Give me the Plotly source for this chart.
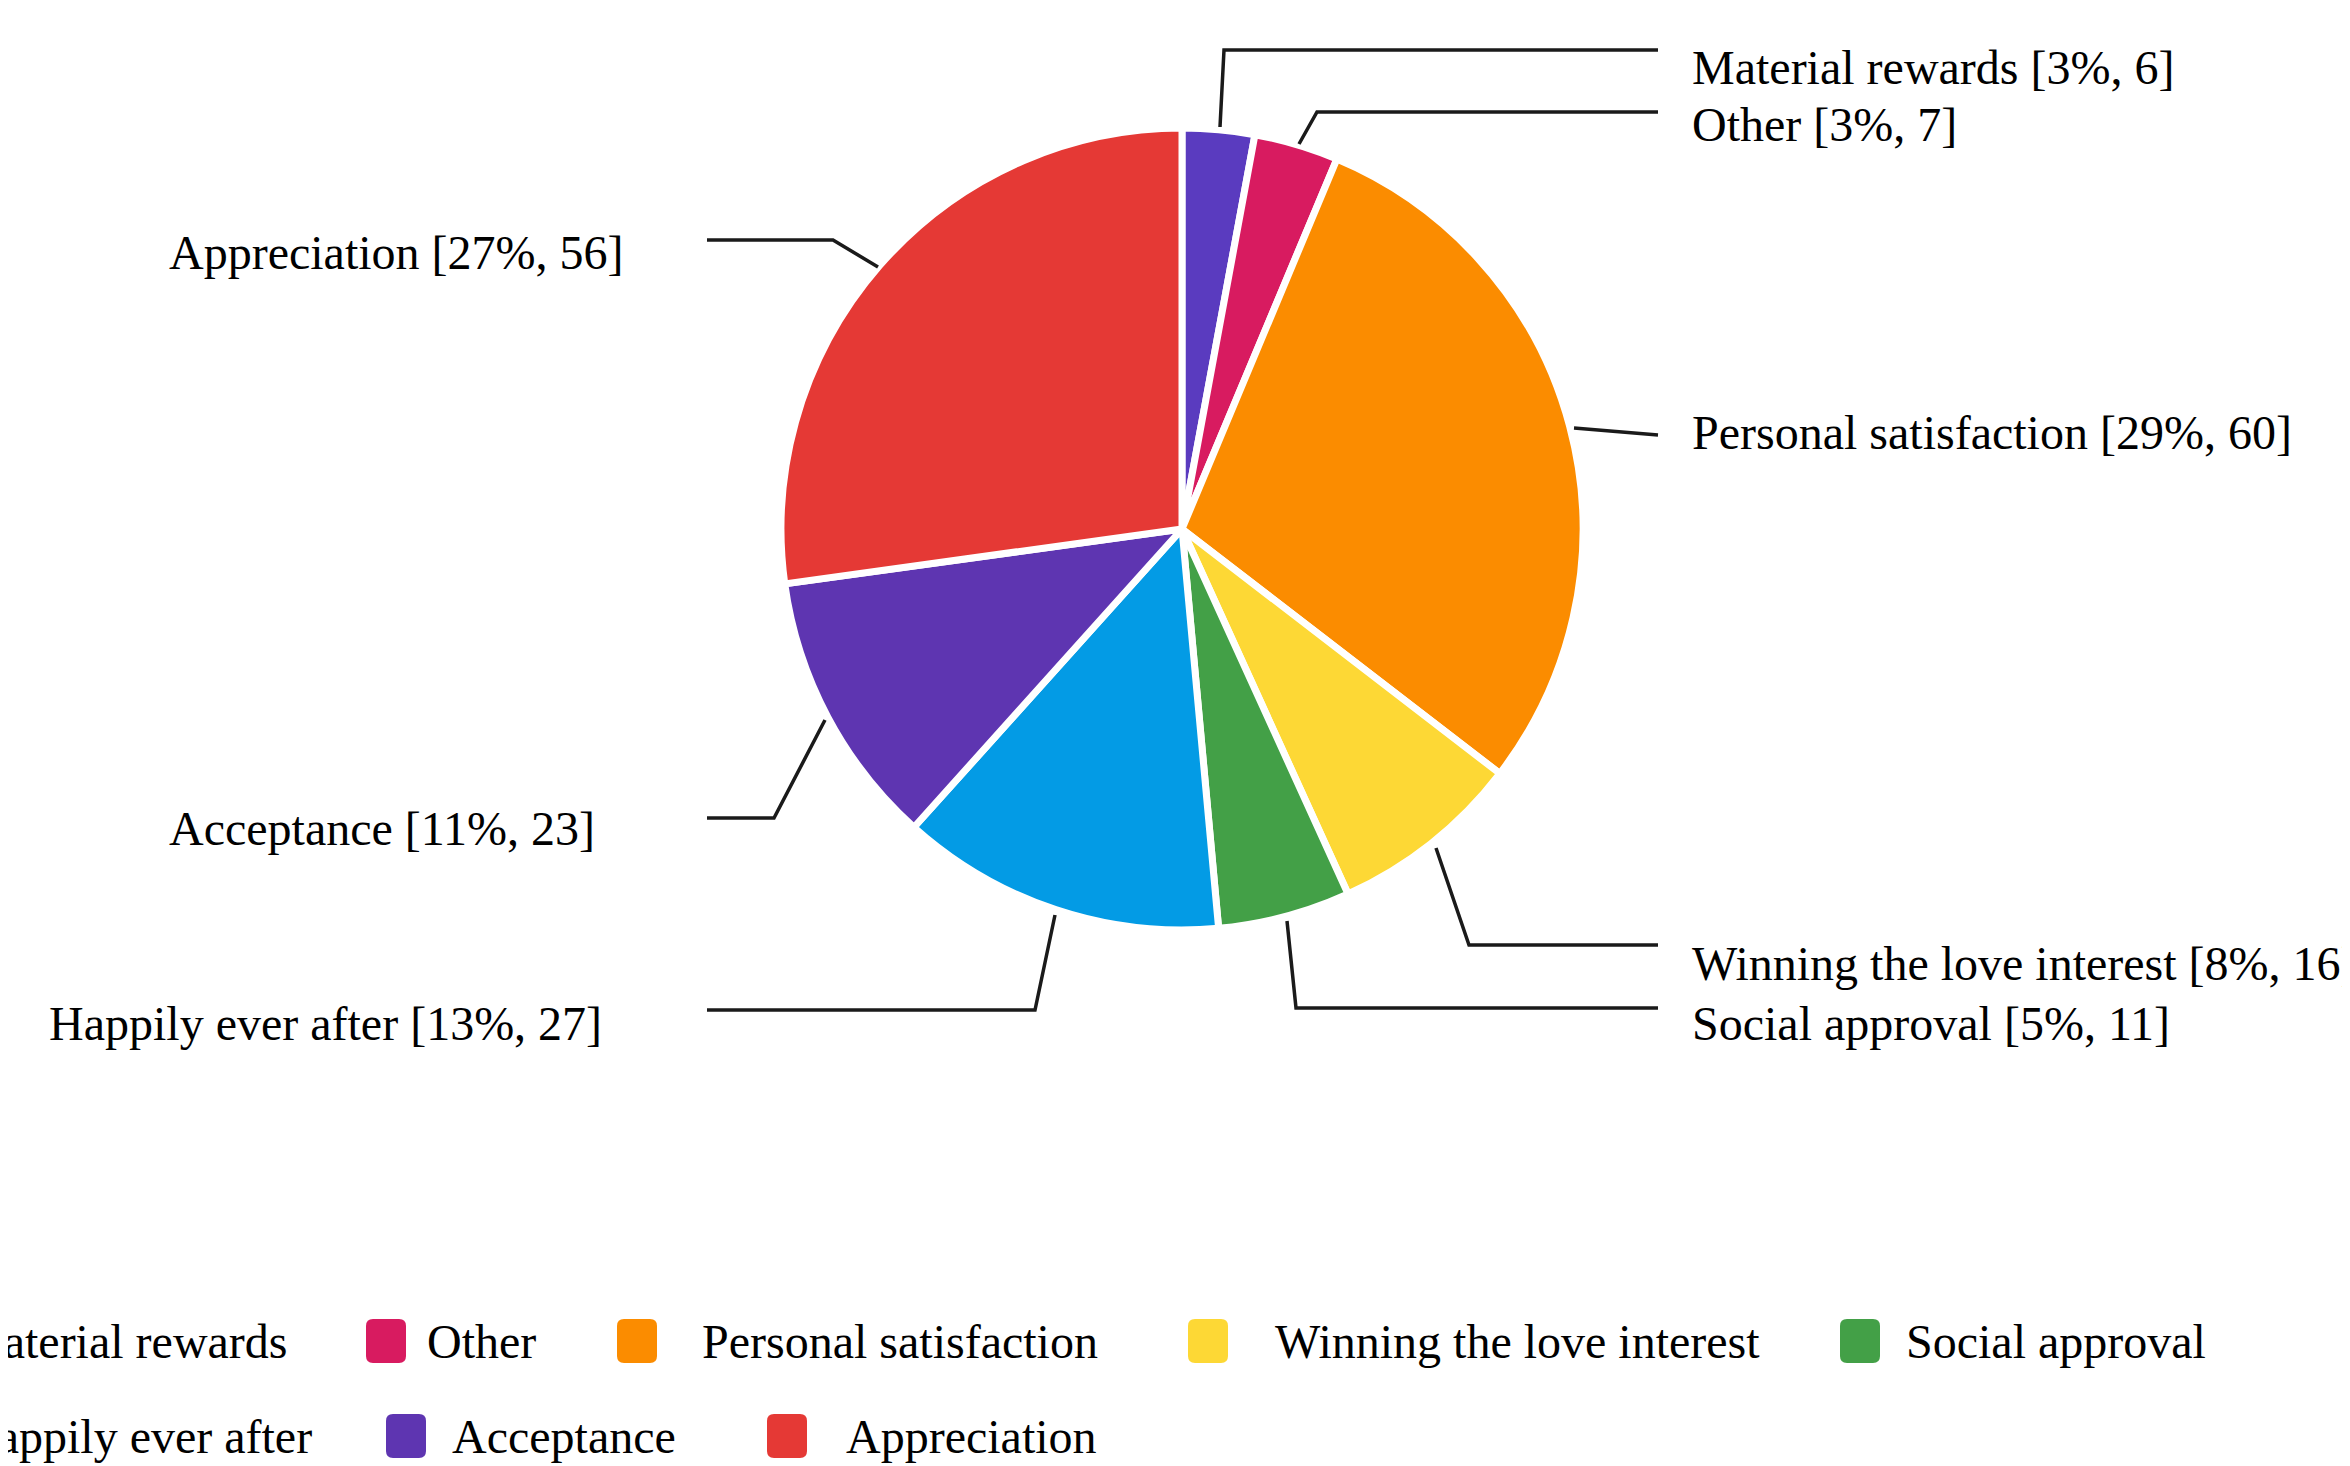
import plotly.graph_objects as go

# ---------------- data ----------------
categories = ["Material rewards", "Other", "Personal satisfaction",
              "Winning the love interest", "Social approval",
              "Happily ever after", "Acceptance", "Appreciation"]
counts = [6, 7, 60, 16, 11, 27, 23, 56]
colors = ["#5a3bbf", "#d81b60", "#fb8c00", "#fdd835", "#43a047",
          "#039be5", "#5e35b1", "#e53935"]

# ---------------- layout constants (screen pixels) ----------------
W, H = 2350, 1466
OFF = 8  # default page body margin
CX, CY, R = 1182, 529, 401
FONT = "Liberation Serif"
FS = 48

# label text anchor (x, y) and leader polyline per category
label_layout = {
    "Material rewards": (1690, 67, [(1658, 50), (1224, 50), (1220, 127)]),
    "Other": (1690, 124, [(1658, 112), (1317, 112), (1299, 144)]),
    "Personal satisfaction": (1690, 432, [(1574, 428), (1658, 435)]),
    "Winning the love interest": (1690, 963, [(1436, 848), (1469, 945), (1658, 945)]),
    "Social approval": (1690, 1023, [(1287, 921), (1296, 1008), (1658, 1008)]),
    "Happily ever after": (47, 1023, [(707, 1010), (1035, 1010), (1055, 915)]),
    "Acceptance": (167, 828, [(707, 818), (774, 818), (825, 720)]),
    "Appreciation": (167, 252, [(707, 240), (833, 240), (878, 267)]),
}

# legend: marker centre x, row y, text x, text anchor
legend_layout = {
    "Material rewards": (-90, 1341, 290, "right"),
    "Other": (386, 1341, 425, "left"),
    "Personal satisfaction": (637, 1341, 700, "left"),
    "Winning the love interest": (1208, 1341, 1273, "left"),
    "Social approval": (1860, 1341, 1904, "left"),
    "Happily ever after": (-90, 1436, 314, "right"),
    "Acceptance": (406, 1436, 450, "left"),
    "Appreciation": (787, 1436, 844, "left"),
}

total = sum(counts)

fig = go.Figure()
pcx, pcy = CX - OFF, CY - OFF
fig.add_trace(go.Pie(
    labels=categories, values=counts, sort=False, direction="clockwise",
    rotation=0, textinfo="none", hoverinfo="label+value+percent",
    marker=dict(colors=colors, line=dict(color="white", width=7)),
    domain=dict(x=[(pcx - R) / W, (pcx + R) / W],
                y=[1 - (pcy + R) / H, 1 - (pcy - R) / H]),
    showlegend=False,
))

annotations = []
shapes = []
for cat, val, col in zip(categories, counts, colors):
    tx, ty, pts = label_layout[cat]
    pct = round(val / total * 100)
    annotations.append(dict(
        x=tx, y=ty, xref="x", yref="y", xanchor="left", yanchor="middle",
        text=f"{cat} [{pct}%, {val}]", showarrow=False,
        font=dict(family=FONT, size=FS, color="black")))
    path = "M " + " L ".join(f"{px},{py}" for px, py in pts)
    shapes.append(dict(type="path", path=path, xref="x", yref="y",
                       line=dict(color="#1a1a1a", width=3.5)))

    mx, my, lx, anchor = legend_layout[cat]
    w2, h2, rr = 20, 22, 7
    x0, x1, y0, y1 = mx - w2, mx + w2, my - h2, my + h2
    rect = (f"M {x0+rr},{y0} L {x1-rr},{y0} Q {x1},{y0} {x1},{y0+rr} "
            f"L {x1},{y1-rr} Q {x1},{y1} {x1-rr},{y1} L {x0+rr},{y1} "
            f"Q {x0},{y1} {x0},{y1-rr} L {x0},{y0+rr} Q {x0},{y0} {x0+rr},{y0} Z")
    shapes.append(dict(type="path", path=rect, xref="x", yref="y",
                       fillcolor=col, line=dict(width=0)))
    annotations.append(dict(
        x=lx, y=my, xref="x", yref="y", xanchor=anchor, yanchor="middle",
        text=cat, showarrow=False,
        font=dict(family=FONT, size=FS, color="black")))

fig.update_layout(
    width=W, height=H,
    margin=dict(l=0, r=0, t=0, b=0, autoexpand=False),
    paper_bgcolor="white", plot_bgcolor="white",
    xaxis=dict(range=[OFF, W + OFF], visible=False, fixedrange=True, domain=[0, 1]),
    yaxis=dict(range=[H + OFF, OFF], visible=False, fixedrange=True, domain=[0, 1]),
    annotations=annotations, shapes=shapes,
    font=dict(family=FONT, size=FS),
)

fig.write_html("out.html")
